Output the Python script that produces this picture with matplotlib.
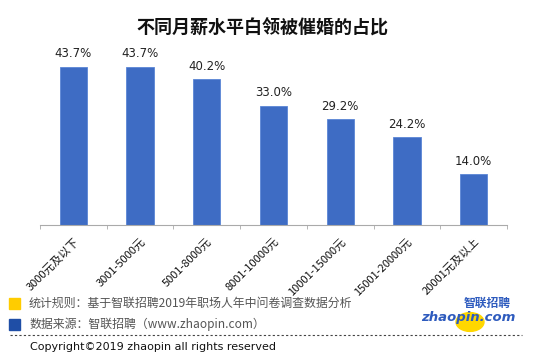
import numpy as np
import matplotlib
matplotlib.use("Agg")
import matplotlib.pyplot as plt
from matplotlib.patches import Rectangle, Circle

plt.rcParams['font.family'] = ['Noto Sans CJK SC', 'DejaVu Sans']

categories = ['3000元及以下', '3001-5000元', '5001-8000元', '8001-10000元',
              '10001-15000元', '15001-20000元', '20001元及以上']
values = [43.7, 43.7, 40.2, 33.0, 29.2, 24.2, 14.0]

W, H = 533, 358
fig = plt.figure(figsize=(W / 100, H / 100), dpi=100)
ax = fig.add_axes([40 / W, 1 - 225 / H, 467 / W, (225 - 44) / H])

x = np.arange(len(categories))
ax.bar(x, values, width=0.41, color='#3E6CC4', edgecolor='#5B86D6', linewidth=0.6)
for xi, v in zip(x, values):
    ax.text(xi, v + 1.8, f'{v:.1f}%', ha='center', va='bottom', fontsize=8.5,
            color='#222222', family=['DejaVu Sans'])

ax.set_xlim(-0.5, len(categories) - 0.5)
ax.set_ylim(0, 50)
for s in ['top', 'right', 'left']:
    ax.spines[s].set_visible(False)
ax.spines['bottom'].set_color('#AAAAAA')
ax.set_yticks([])
ax.set_xticks(np.arange(len(categories) + 1) - 0.5, minor=True)
ax.tick_params(axis='x', which='minor', length=3, color='#AAAAAA')
ax.set_xticks(x)
ax.tick_params(axis='x', which='major', length=0, pad=8)
ax.set_xticklabels(categories, rotation=45, ha='right', rotation_mode='anchor',
                   fontsize=8, color='#111111')

fig.text(262 / W, 1 - 28 / H, '不同月薪水平白领被催婚的占比', ha='center', va='center',
         fontsize=13, fontweight='bold', color='#111111')

# legend notes
fig.patches.append(Rectangle((9 / W, 1 - 309 / H), 11 / W, 11 / H, color='#FFCC00',
                             transform=fig.transFigure))
fig.patches.append(Rectangle((9 / W, 1 - 330 / H), 11 / W, 11 / H, color='#1F4EA6',
                             transform=fig.transFigure))
fig.text(29 / W, 1 - 303 / H, '统计规则：基于智联招聘2019年职场人年中问卷调查数据分析',
         ha='left', va='center', fontsize=8.6, color='#555555')
fig.text(29 / W, 1 - 324 / H, '数据来源：智联招聘（www.zhaopin.com）',
         ha='left', va='center', fontsize=8.6, color='#555555')

fig.add_artist(plt.Line2D([10 / W, 522 / W], [1 - 335 / H, 1 - 335 / H],
                          transform=fig.transFigure, color='#444444', lw=0.8,
                          linestyle=(0, (2, 2))))
fig.text(30 / W, 1 - 347 / H, 'Copyright©2019 zhaopin all rights reserved',
         ha='left', va='center', fontsize=8, color='#111111', family=['DejaVu Sans'])

# logo
fig.patches.append(Circle((470 / W, 1 - 322 / H), 14 / W, color='#FFD700',
                          transform=fig.transFigure))
fig.text(487 / W, 1 - 303 / H, '智联招聘', ha='center', va='center', fontsize=8.5,
         fontweight='bold', color='#2E5BBE')
fig.text(468 / W, 1 - 317 / H, 'zhaopin.com', ha='center', va='center', fontsize=9.5,
         fontweight='bold', fontstyle='italic', color='#2E5BBE', family=['DejaVu Sans'])

fig.savefig('out.png', dpi=100)
